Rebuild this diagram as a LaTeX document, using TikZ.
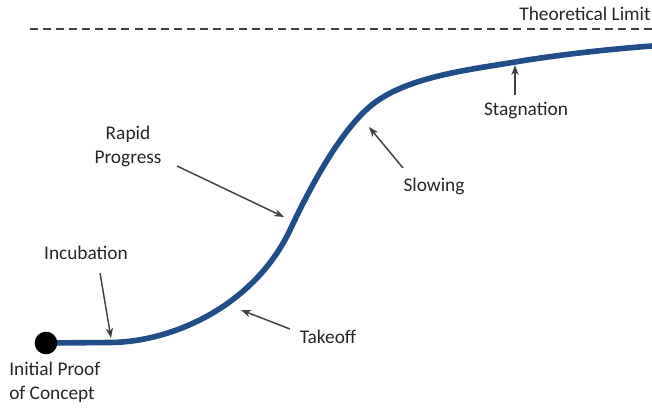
\documentclass[tikz,border=0pt]{standalone}
\usepackage{fontspec}
\setmainfont{Carlito}
\usetikzlibrary{arrows.meta}
\definecolor{curveblue}{HTML}{1F4E89}
\definecolor{pointer}{HTML}{404040}
\begin{document}
\begin{tikzpicture}[x=0.75pt,y=-0.75pt,
  lbl/.style={font=\fontsize{14.5}{18}\selectfont, text=black!85, inner sep=0pt},
  ptr/.style={draw=pointer, line width=1.1pt, -{Stealth[length=7.5pt,width=5.5pt]}},
  limitline/.style={draw=black!75, line width=1.6pt, dash pattern=on 6pt off 3.8pt},
  growth/.style={draw=curveblue, line width=4.2pt, line cap=round}]
\useasboundingbox (0,0) rectangle (652,408);

% theoretical limit
\coordinate (limA) at (30,29);
\coordinate (limB) at (652,29);
\draw[limitline] (limA) -- (limB);
\node[lbl] (limit) at (585,14) {Theoretical Limit};

% S-shaped growth curve
\draw[growth] (46,343) -- (110,342.5)
  .. controls (175,342) and (255,304) .. (290,230)
  .. controls (313,181) and (343,127.5) .. (373,104)
  .. controls (408,76.6) and (470,69.6) .. (515,62)
  .. controls (555,55.2) and (610,49) .. (652,46);
\node[circle, fill=black, minimum size=17pt, inner sep=0pt] (start) at (46,343) {};

% labels
\node[lbl, align=left, anchor=west] (proof) at (9,382) {Initial Proof\\of Concept};
\node[lbl] (incub) at (86,253) {Incubation};
\node[lbl] (takeoff) at (328,337) {Takeoff};
\node[lbl, align=center] (rapid) at (128,146) {Rapid\\Progress};
\node[lbl] (slow) at (434,186) {Slowing};
\node[lbl] (stag) at (526,110) {Stagnation};

% pointer arrows
\coordinate (incubS) at (100,273);  \coordinate (incubE) at (111,338);
\coordinate (takeS) at (290,329);   \coordinate (takeE) at (241,310);
\coordinate (rapidS) at (177,166);  \coordinate (rapidE) at (284,217);
\coordinate (slowS) at (403,168);   \coordinate (slowE) at (369,127);
\coordinate (stagS) at (515,95);    \coordinate (stagE) at (515,65);
\draw[ptr] (incubS) -- (incubE);
\draw[ptr] (takeS) -- (takeE);
\draw[ptr] (rapidS) -- (rapidE);
\draw[ptr] (slowS) -- (slowE);
\draw[ptr] (stagS) -- (stagE);
\end{tikzpicture}
\end{document}
